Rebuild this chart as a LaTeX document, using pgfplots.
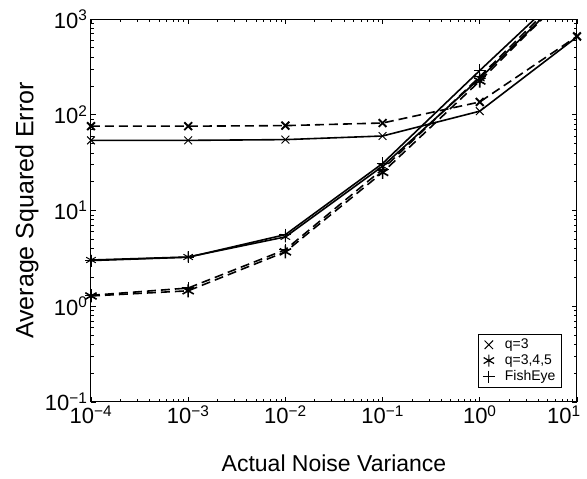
\documentclass[border=0pt]{standalone}
\usepackage{fontspec}
\setmainfont{Liberation Sans}
\usepackage{pgfplots}
\pgfplotsset{compat=1.18}

\begin{document}
\begin{tikzpicture}
\begin{axis}[
    name=main,
    scale only axis,
    width=486pt,
    height=383pt,
    xmode=log,
    ymode=log,
    xmin=1e-4, xmax=10,
    ymin=0.1, ymax=1000,
    xtick={1e-4,1e-3,1e-2,1e-1,1,10},
    xticklabels={10\textsuperscript{−4},10\textsuperscript{−3},10\textsuperscript{−2},10\textsuperscript{−1},10\textsuperscript{0},\hspace*{-26pt}10\textsuperscript{1}},
    ytick={0.1,1,10,100,1000},
    yticklabels={10\textsuperscript{−1},10\textsuperscript{0},10\textsuperscript{1},10\textsuperscript{2},10\textsuperscript{3}},
    tick label style={font=\fontsize{22}{24}\selectfont},
    xlabel={Actual Noise Variance},
    ylabel={Average Squared Error},
    xlabel style={font=\fontsize{23}{25}\selectfont, at={(axis description cs:0.5,-0.159)}, anchor=center},
    ylabel style={font=\fontsize{25}{27}\selectfont, at={(axis description cs:-0.132,0.5)}, anchor=center},
    tick align=inside,
    major tick length=5pt,
    minor tick length=3pt,
    axis line style={line width=1pt},
    every tick/.style={black, line width=0.7pt},
    legend style={
        at={(0.969,0.037)},
        anchor=south east,
        font=\fontsize{14}{16}\selectfont,
        draw=black,
        line width=1pt,
        row sep=0.5pt,
        inner xsep=4pt,
        inner ysep=3pt,
        /tikz/every odd column/.append style={column sep=8pt}
    },
    legend cell align=left,
    every axis plot/.append style={black, line width=1.6pt},
]

% q=3 (x markers)
\addplot[solid, mark=x, mark size=5.5pt, mark options={solid, line width=0.9pt}, forget plot] coordinates {
    (1e-4,54) (1e-3,54) (1e-2,55) (1e-1,60) (1,109) (10,650)
};
\addplot[dash pattern=on 9pt off 5pt, mark=x, mark size=5.5pt, mark options={solid, line width=1.9pt}, forget plot] coordinates {
    (1e-4,76) (1e-3,76) (1e-2,77) (1e-1,82) (1,136) (10,660)
};

% q=3,4,5 (asterisk markers)
\addplot[solid, mark=asterisk, mark size=5.5pt, mark options={solid, line width=1pt}, forget plot] coordinates {
    (1e-4,3.04) (1e-3,3.27) (1e-2,5.3) (1e-1,29) (1,240) (10,2300)
};
\addplot[dash pattern=on 9pt off 5pt, mark=asterisk, mark size=6.5pt, mark options={solid, line width=1.6pt}, forget plot] coordinates {
    (1e-4,1.28) (1e-3,1.45) (1e-2,3.7) (1e-1,25) (1,225) (10,2300)
};

% FishEye (+ markers)
\addplot[solid, mark=+, mark size=6pt, mark options={solid, line width=0.9pt}, forget plot] coordinates {
    (1e-4,3.0) (1e-3,3.25) (1e-2,5.6) (1e-1,31) (1,290) (10,2600)
};
\addplot[dash pattern=on 9pt off 5pt, mark=+, mark size=6pt, mark options={solid, line width=1.3pt}, forget plot] coordinates {
    (1e-4,1.3) (1e-3,1.55) (1e-2,3.9) (1e-1,27) (1,250) (10,2500)
};

\addlegendimage{only marks, black, mark=x, mark size=6pt, mark options={line width=0.9pt}}
\addlegendentry{q=3}
\addlegendimage{only marks, black, mark=asterisk, mark size=6pt, mark options={line width=1.2pt}}
\addlegendentry{q=3,4,5}
\addlegendimage{only marks, black, mark=+, mark size=6pt, mark options={line width=0.9pt}}
\addlegendentry{FishEye}

\end{axis}
\pgfresetboundingbox
\path (main.south west) ++(-91pt,-77pt) rectangle ++(587pt,479pt);
\end{tikzpicture}
\end{document}
